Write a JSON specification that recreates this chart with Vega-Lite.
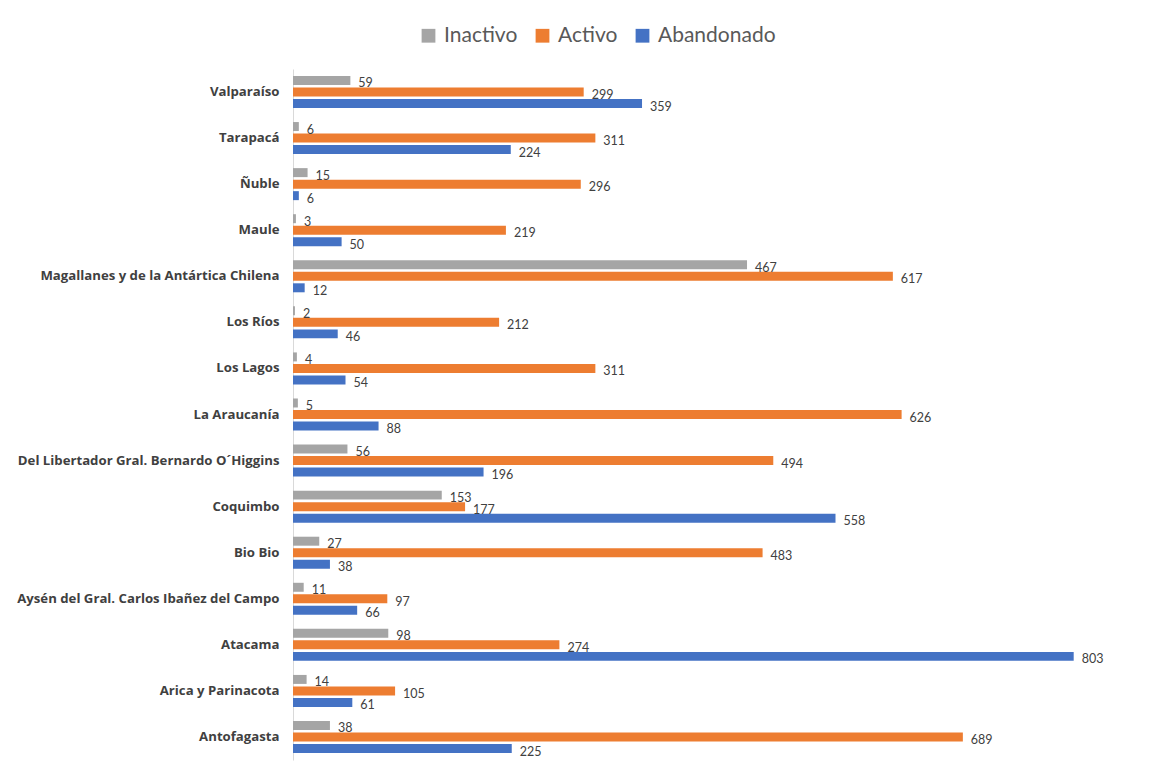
{
  "$schema": "https://vega.github.io/schema/vega-lite/v6.json",
  "autosize": "none",
  "width": 875,
  "height": 691,
  "padding": {"left": 293, "top": 69, "right": 1, "bottom": 7},
  "background": "white",
  "config": {
    "view": {"stroke": null},
    "font": "Lato"
  },
  "data": {
    "values": [
      {"region": "Valparaíso", "serie": "Inactivo", "valor": 59},
      {"region": "Valparaíso", "serie": "Activo", "valor": 299},
      {"region": "Valparaíso", "serie": "Abandonado", "valor": 359},
      {"region": "Tarapacá", "serie": "Inactivo", "valor": 6},
      {"region": "Tarapacá", "serie": "Activo", "valor": 311},
      {"region": "Tarapacá", "serie": "Abandonado", "valor": 224},
      {"region": "Ñuble", "serie": "Inactivo", "valor": 15},
      {"region": "Ñuble", "serie": "Activo", "valor": 296},
      {"region": "Ñuble", "serie": "Abandonado", "valor": 6},
      {"region": "Maule", "serie": "Inactivo", "valor": 3},
      {"region": "Maule", "serie": "Activo", "valor": 219},
      {"region": "Maule", "serie": "Abandonado", "valor": 50},
      {"region": "Magallanes y de la Antártica Chilena", "serie": "Inactivo", "valor": 467},
      {"region": "Magallanes y de la Antártica Chilena", "serie": "Activo", "valor": 617},
      {"region": "Magallanes y de la Antártica Chilena", "serie": "Abandonado", "valor": 12},
      {"region": "Los Ríos", "serie": "Inactivo", "valor": 2},
      {"region": "Los Ríos", "serie": "Activo", "valor": 212},
      {"region": "Los Ríos", "serie": "Abandonado", "valor": 46},
      {"region": "Los Lagos", "serie": "Inactivo", "valor": 4},
      {"region": "Los Lagos", "serie": "Activo", "valor": 311},
      {"region": "Los Lagos", "serie": "Abandonado", "valor": 54},
      {"region": "La Araucanía", "serie": "Inactivo", "valor": 5},
      {"region": "La Araucanía", "serie": "Activo", "valor": 626},
      {"region": "La Araucanía", "serie": "Abandonado", "valor": 88},
      {"region": "Del Libertador Gral. Bernardo O´Higgins", "serie": "Inactivo", "valor": 56},
      {"region": "Del Libertador Gral. Bernardo O´Higgins", "serie": "Activo", "valor": 494},
      {"region": "Del Libertador Gral. Bernardo O´Higgins", "serie": "Abandonado", "valor": 196},
      {"region": "Coquimbo", "serie": "Inactivo", "valor": 153},
      {"region": "Coquimbo", "serie": "Activo", "valor": 177},
      {"region": "Coquimbo", "serie": "Abandonado", "valor": 558},
      {"region": "Bio Bio", "serie": "Inactivo", "valor": 27},
      {"region": "Bio Bio", "serie": "Activo", "valor": 483},
      {"region": "Bio Bio", "serie": "Abandonado", "valor": 38},
      {"region": "Aysén del Gral. Carlos Ibañez del Campo", "serie": "Inactivo", "valor": 11},
      {"region": "Aysén del Gral. Carlos Ibañez del Campo", "serie": "Activo", "valor": 97},
      {"region": "Aysén del Gral. Carlos Ibañez del Campo", "serie": "Abandonado", "valor": 66},
      {"region": "Atacama", "serie": "Inactivo", "valor": 98},
      {"region": "Atacama", "serie": "Activo", "valor": 274},
      {"region": "Atacama", "serie": "Abandonado", "valor": 803},
      {"region": "Arica y Parinacota", "serie": "Inactivo", "valor": 14},
      {"region": "Arica y Parinacota", "serie": "Activo", "valor": 105},
      {"region": "Arica y Parinacota", "serie": "Abandonado", "valor": 61},
      {"region": "Antofagasta", "serie": "Inactivo", "valor": 38},
      {"region": "Antofagasta", "serie": "Activo", "valor": 689},
      {"region": "Antofagasta", "serie": "Abandonado", "valor": 225}
    ]
  },
  "encoding": {
    "y": {
      "field": "region",
      "type": "nominal",
      "sort": null,
      "scale": {"paddingInner": 0.25, "paddingOuter": 0.124},
      "axis": {
        "title": null,
        "ticks": false,
        "labelPadding": 14,
        "labelFontWeight": "bold",
        "labelFontSize": 13.2,
        "labelColor": "#404040",
        "labelFont": "Open Sans",
        "domainColor": "#d9d9d9",
        "labelLimit": 400
      }
    },
    "yOffset": {
      "field": "serie",
      "type": "nominal",
      "scale": {"domain": ["Inactivo", "Activo", "Abandonado"], "paddingInner": 0.22, "paddingOuter": 0.11}
    },
    "x": {
      "field": "valor",
      "type": "quantitative",
      "scale": {"domain": [0, 900], "nice": false},
      "axis": null
    }
  },
  "layer": [
    {
      "mark": {"type": "bar"},
      "encoding": {
        "color": {
          "field": "serie",
          "type": "nominal",
          "scale": {"domain": ["Inactivo", "Activo", "Abandonado"], "range": ["#A5A5A5", "#ED7D31", "#4472C4"]},
          "legend": {
            "title": null,
            "orient": "none",
            "direction": "horizontal",
            "legendX": 125,
            "legendY": -44,
            "symbolType": "square",
            "symbolSize": 190,
            "symbolStrokeWidth": 0,
            "labelFontSize": 21,
            "labelColor": "#595959",
            "labelFont": "Lato",
            "columnPadding": 14,
            "labelOffset": 5
          }
        }
      }
    },
    {
      "mark": {"type": "text", "align": "left", "baseline": "middle", "dx": 8, "dy": 3, "fontSize": 12.5, "color": "#404040", "font": "Lato"},
      "encoding": {
        "text": {"field": "valor", "type": "quantitative"}
      }
    }
  ]
}
